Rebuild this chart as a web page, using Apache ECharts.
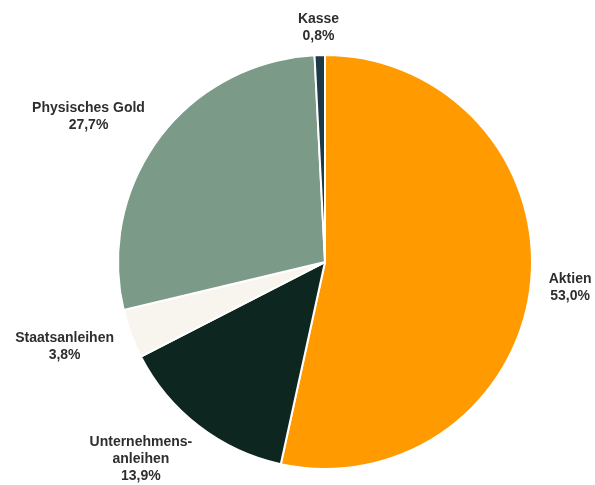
<!DOCTYPE html>
<html>
<head>
<meta charset="utf-8">
<script src="https://cdn.jsdelivr.net/npm/echarts@6/dist/echarts.min.js"></script>
<style>
html,body{margin:0;padding:0;background:#fff;}
#chart{width:595px;height:485px;}
</style>
</head>
<body>
<div id="chart"></div>
<script>
// Data
var categories = ['Aktien', 'Unternehmens-\nanleihen', 'Staatsanleihen', 'Physisches Gold', 'Kasse'];
var values = [53.0, 13.9, 3.8, 27.7, 0.8];
var colors = ['#FF9A00', '#0E2620', '#F8F5EE', '#7B9A87', '#1D3A4A'];

var CX = 325, CY = 262, R = 207, GAPX = 18, GAPY = 10;
var total = values.reduce(function (a, b) { return a + b; }, 0);
var mids = [];
(function () {
  var acc = 0;
  for (var i = 0; i < values.length; i++) {
    var a = (acc + values[i] / 2) / total * 2 * Math.PI;
    mids.push(a);
    acc += values[i];
  }
})();

function fmt(v) { return v.toFixed(1).replace('.', ',') + '%'; }

var chart = echarts.init(document.getElementById('chart'), null, { renderer: 'canvas' });
chart.setOption({
  animation: false,
  backgroundColor: '#ffffff',
  series: [{
    type: 'pie',
    center: [CX, CY],
    radius: R,
    startAngle: 90,
    clockwise: true,
    avoidLabelOverlap: false,
    itemStyle: { borderColor: '#ffffff', borderWidth: 2 },
    label: {
      show: true,
      position: 'outside',
      color: '#2e2e2e',
      fontFamily: 'Liberation Sans, Arial, sans-serif',
      fontWeight: 'bold',
      fontSize: 14,
      lineHeight: 17,
      align: 'center',
      formatter: function (p) { return p.name + '\n' + fmt(p.value); }
    },
    labelLine: { show: false, length: 10, length2: 0 },
    labelLayout: function (p) {
      var a = mids[p.dataIndex];
      var dx = Math.sin(a), dy = -Math.cos(a);
      var w = p.labelRect.width, h = p.labelRect.height;
      var ex = CX + R * dx, ey = CY + R * dy;
      var x = ex + dx * GAPX + Math.sign(dx) * w / 2 * Math.min(1, 1.5 * Math.abs(dx));
      var y = ey + dy * GAPY + Math.sign(dy) * h / 2 * Math.min(1, 1.5 * Math.abs(dy));
      return { x: x, y: y, align: 'center', verticalAlign: 'middle' };
    },
    data: categories.map(function (c, i) {
      return { name: c, value: values[i], itemStyle: { color: colors[i] } };
    })
  }]
});
</script>
</body>
</html>
